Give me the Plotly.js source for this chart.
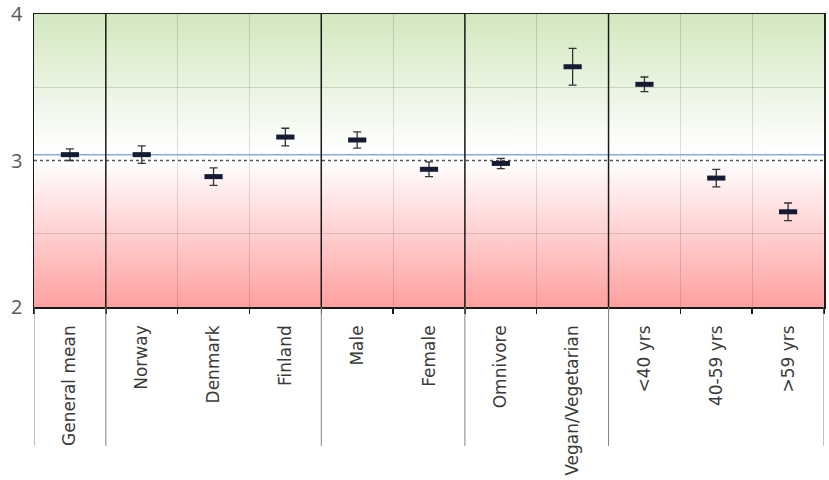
<!DOCTYPE html>
<html>
<head>
<meta charset="utf-8">
<script src="https://cdn.plot.ly/plotly-3.0.1.min.js"></script>
<style>
  body { margin: 0; background: #fff; }
  #myDiv { width: 829px; height: 480px; }
</style>
</head>
<body>
<div id="myDiv"></div>
<script>
//  ======== DATA ========
var categories = ['General mean', 'Norway', 'Denmark', 'Finland', 'Male', 'Female',
                  'Omnivore', 'Vegan/Vegetarian', '<40 yrs', '40-59 yrs', '>59 yrs'];
var means  = [3.04, 3.04, 2.89, 3.16, 3.14, 2.94, 2.98, 3.64, 3.52, 2.88, 2.65];
var errors = [0.04, 0.06, 0.06, 0.06, 0.055, 0.05, 0.035, 0.125, 0.05, 0.06, 0.06];
var groupBreaks = [0.5, 3.5, 5.5, 7.5];   // between groups (category index space)
var neutral = 3;                            // dotted reference line
var generalMean = means[0];                 // blue line

var xIdx = categories.map(function (c, i) { return i; });
var bounds = [];
for (var b = -0.5; b <= categories.length - 0.5; b += 1) bounds.push(b);

//  ======== BACKGROUND (green above, red below) ========
var svg = '<svg xmlns="http://www.w3.org/2000/svg" width="100" height="100" preserveAspectRatio="none">' +
  '<defs><linearGradient id="g" x1="0" y1="0" x2="0" y2="1">' +
  '<stop offset="0" stop-color="#d2e8bf"/>' +
  '<stop offset="0.47" stop-color="#ffffff"/>' +
  '<stop offset="0.5" stop-color="#ffffff"/>' +
  '<stop offset="1" stop-color="#ffa0a0"/>' +
  '</linearGradient></defs><rect width="100" height="100" fill="url(#g)"/></svg>';

//  ======== TRACES ========
var traceNeutral = {
  x: [-0.5, categories.length - 0.5],
  y: [neutral, neutral],
  mode: 'lines',
  line: { color: '#555555', width: 1.5, dash: 'dot' },
  hoverinfo: 'skip'
};

var traceMean = {
  x: [-0.5, categories.length - 0.5],
  y: [generalMean, generalMean],
  mode: 'lines',
  line: { color: '#8eaadc', width: 1.5 },
  hoverinfo: 'skip'
};

var tracePoints = {
  x: xIdx,
  y: means,
  type: 'scatter',
  mode: 'markers',
  text: categories,
  error_y: {
    type: 'data',
    array: errors,
    visible: true,
    color: '#333333',
    thickness: 1.3,
    width: 4
  },
  marker: {
    symbol: 'line-ew',
    size: 13,
    line: { color: '#141b33', width: 5 }
  }
};

//  ======== SHAPES ========
var shapes = [];
groupBreaks.forEach(function (g) {
  shapes.push({ type: 'line', xref: 'x', yref: 'paper', x0: g, x1: g, y0: 0, y1: 1,
                line: { color: '#1a1a1a', width: 1.5 } });
});
[-0.5].concat(groupBreaks, [categories.length - 0.5]).forEach(function (g) {
  shapes.push({ type: 'line', xref: 'x', yref: 'paper', x0: g, x1: g, y0: 0, y1: -0.474,
                line: { color: '#808080', width: 1 } });
});

//  ======== LAYOUT ========
var layout = {
  width: 829,
  height: 480,
  margin: { l: 34, r: 5, t: 14, b: 173, pad: 0 },
  paper_bgcolor: '#ffffff',
  plot_bgcolor: 'rgba(0,0,0,0)',
  showlegend: false,
  font: { family: 'DejaVu Sans, sans-serif', color: '#404040' },
  images: [{
    source: 'data:image/svg+xml;charset=utf-8,' + encodeURIComponent(svg),
    xref: 'paper', yref: 'paper',
    x: 0, y: 1, sizex: 1, sizey: 1,
    xanchor: 'left', yanchor: 'top',
    sizing: 'stretch',
    layer: 'below'
  }],
  xaxis: {
    range: [-0.5, categories.length - 0.5],
    tickvals: xIdx,
    ticktext: categories,
    tickangle: -90,
    ticks: '',
    ticklabelstandoff: 10,
    tickfont: { family: 'DejaVu Sans, sans-serif', size: 17, color: '#3a3a3a' },
    showgrid: false,
    zeroline: false,
    showline: true,
    mirror: true,
    linecolor: '#1a1a1a',
    linewidth: 1.5,
    minor: {
      tickvals: bounds,
      ticks: 'outside',
      ticklen: 5,
      tickwidth: 1.5,
      tickcolor: '#1a1a1a',
      showgrid: true,
      gridcolor: 'rgba(0,0,0,0.13)',
      gridwidth: 1
    }
  },
  yaxis: {
    range: [2, 4],
    tickvals: [2, 3, 4],
    ticks: '',
    tickfont: { family: 'Open Sans, sans-serif', size: 20, color: '#595959' },
    ticklabelstandoff: 6,
    showgrid: false,
    zeroline: false,
    showline: true,
    mirror: true,
    linecolor: '#1a1a1a',
    linewidth: 1.5,
    minor: {
      tickvals: [2.5, 3.5],
      ticks: '',
      showgrid: true,
      gridcolor: 'rgba(0,0,0,0.13)',
      gridwidth: 1
    }
  },
  shapes: shapes
};

Plotly.newPlot('myDiv', [traceNeutral, traceMean, tracePoints], layout, { staticPlot: true });
</script>
</body>
</html>
